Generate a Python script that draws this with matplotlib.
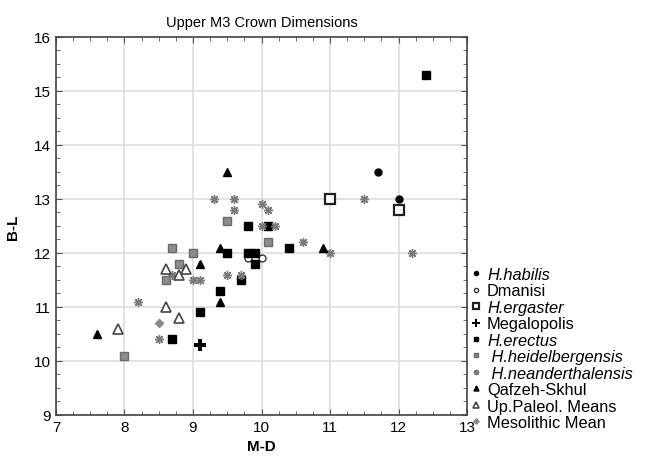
import matplotlib
matplotlib.use("Agg")
from matplotlib import pyplot as plt
from matplotlib.ticker import MultipleLocator

"""
Upper M3 crown dimensions: M-D vs B-L scatter by group
"""

plt.rcParams['font.family'] = ['Liberation Sans', 'DejaVu Sans']

habilis_x = [11.7, 12.0]
habilis_y = [13.5, 13.0]

dmanisi_x = [9.8, 10.0]
dmanisi_y = [11.9, 11.9]

ergaster_x = [11.0, 12.0]
ergaster_y = [13.0, 12.8]

megalopolis_x = [9.1]
megalopolis_y = [10.3]

erectus_x = [12.4, 9.5, 9.8, 9.9, 9.8, 10.1, 10.4, 9.9, 9.7, 9.4, 9.1, 8.7]
erectus_y = [15.3, 12.0, 12.0, 12.0, 12.5, 12.5, 12.1, 11.8, 11.5, 11.3, 10.9, 10.4]

heidel_x = [8.7, 9.0, 8.8, 8.6, 8.0, 9.5, 10.1]
heidel_y = [12.1, 12.0, 11.8, 11.5, 10.1, 12.6, 12.2]

neander_x = [9.3, 9.6, 9.6, 10.0, 10.1, 10.0, 10.2, 10.6, 11.0, 9.5, 9.7,
             9.0, 9.1, 8.7, 8.2, 8.5, 11.5, 12.2]
neander_y = [13.0, 13.0, 12.8, 12.9, 12.8, 12.5, 12.5, 12.2, 12.0, 11.6, 11.6,
             11.5, 11.5, 11.6, 11.1, 10.4, 13.0, 12.0]

qafzeh_x = [9.5, 9.4, 10.9, 9.1, 9.4, 7.6]
qafzeh_y = [13.5, 12.1, 12.1, 11.8, 11.1, 10.5]

upaleo_x = [8.6, 8.8, 8.9, 8.6, 8.8, 7.9]
upaleo_y = [11.7, 11.6, 11.7, 11.0, 10.8, 10.6]

meso_x = [8.5]
meso_y = [10.7]

fig = plt.figure(figsize=(6.48, 4.6), dpi=100)
ax = fig.add_axes([0.0864, 0.0957, 0.6343, 0.8217])

grey = '#7a7a7a'
ax.plot(habilis_x, habilis_y, 'o', color='black', ms=5, label='H.habilis')
ax.plot(dmanisi_x, dmanisi_y, 'o', mfc='white', mec='#333333', mew=1, ms=5,
        label='Dmanisi')
ax.plot(ergaster_x, ergaster_y, 's', mfc='white', mec='#222222', mew=1.6, ms=7,
        label='H.ergaster')
ax.plot(megalopolis_x, megalopolis_y, 'P', color='black', ms=9, mew=0,
        label='Megalopolis')
ax.plot(erectus_x, erectus_y, 's', color='black', ms=6, label='H.erectus')
ax.plot(heidel_x, heidel_y, 's', mfc='#8c8c8c', mec='#6a6a6a', ms=6,
        label=' H.heidelbergensis')
ax.plot(neander_x, neander_y, marker=(8, 2, 0), ls='none', color=grey, mew=1,
        ms=6.5, label=' H.neanderthalensis')
ax.plot(qafzeh_x, qafzeh_y, '^', color='black', ms=6, label='Qafzeh-Skhul')
ax.plot(upaleo_x, upaleo_y, '^', mfc='white', mec='#444444', mew=1.2, ms=6.5,
        label='Up.Paleol. Means')
ax.plot(meso_x, meso_y, 'D', color='#8a8a8a', ms=4.5, label='Mesolithic Mean')

ax.set_xlim(7, 13)
ax.set_ylim(9, 16)
ax.xaxis.set_major_locator(MultipleLocator(1))
ax.yaxis.set_major_locator(MultipleLocator(1))
ax.xaxis.set_minor_locator(MultipleLocator(0.25))
ax.yaxis.set_minor_locator(MultipleLocator(0.25))
ax.tick_params(which='both', direction='in', top=True, right=True,
               labelsize=11, color='#555555')
ax.tick_params(which='major', length=4)
ax.tick_params(which='minor', length=3)
ax.grid(True, which='major', color='#dddddd', lw=1.2)
ax.set_axisbelow(True)
for sp in ax.spines.values():
    sp.set_color('#444444')
    sp.set_linewidth(1.2)

ax.set_title('Upper M3 Crown Dimensions', fontsize=10.5, pad=8)
ax.set_xlabel('M-D', fontsize=11, fontweight='bold', labelpad=4)
ax.set_ylabel('B-L', fontsize=11, fontweight='bold', labelpad=10)

leg = fig.legend(loc='upper left', bbox_to_anchor=(0.715, 0.432), frameon=False,
                 fontsize=11.8, markerscale=0.6, handlelength=0.75,
                 handletextpad=0.3, labelspacing=0.09, borderaxespad=0)
italic = ['H.habilis', 'H.ergaster', 'H.erectus', ' H.heidelbergensis',
          ' H.neanderthalensis']
for t in leg.get_texts():
    if t.get_text() in italic:
        t.set_fontstyle('italic')

fig.savefig('out.png', dpi=100)
